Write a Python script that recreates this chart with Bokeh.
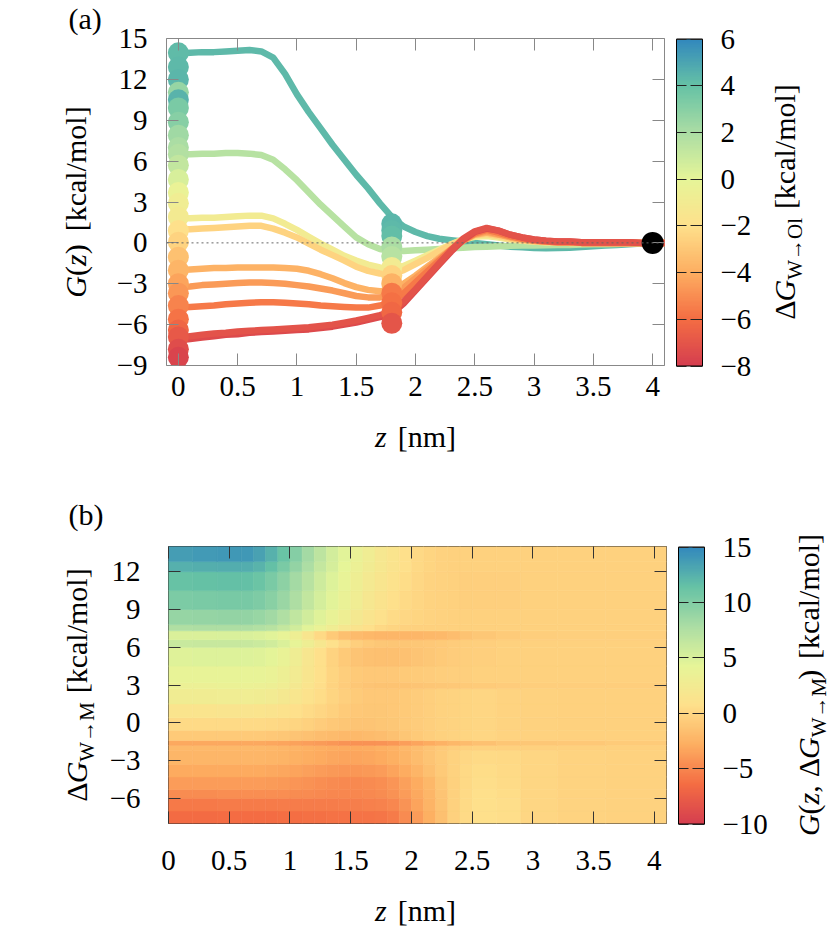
import math
import numpy as np
from bokeh.plotting import figure
from bokeh.models import (ColumnDataSource, LinearColorMapper, ColorBar, FixedTicker,
                          LinearAxis, Span, Range1d, CustomJSTickFormatter)
from bokeh.layouts import column, row
from bokeh.core.properties import value
from bokeh.embed import file_html
from bokeh.resources import INLINE

# ---------------------------------------------------------------- data (a)
Z_GRID = [0.0, 0.1, 0.2, 0.3, 0.4, 0.5, 0.6, 0.7, 0.8, 0.9,
          1.0, 1.1, 1.2, 1.3, 1.4, 1.5, 1.6, 1.7, 1.8, 1.9,
          2.0, 2.1, 2.2, 2.3, 2.4, 2.5, 2.6, 2.7, 2.8, 2.9,
          3.0, 3.1, 3.2, 3.3, 3.4, 3.5, 3.6, 3.7, 3.8, 3.9,
          4.0, 4.1]

G_TEAL = [13.9, 13.95, 14.0, 14.0, 14.05, 14.1, 14.15, 14.05, 13.6, 12.4,
          10.9, 9.6, 8.4, 7.2, 6.1, 5.0, 4.0, 2.9, 1.9, 1.2,
          0.8, 0.5, 0.3, 0.2, 0.1, 0.0, -0.1, -0.2, -0.28, -0.33,
          -0.38, -0.4, -0.38, -0.35, -0.3, -0.25, -0.2, -0.15, -0.1, -0.05,
          0.0, 0.0]
G_GREEN = [6.5, 6.5, 6.55, 6.55, 6.6, 6.6, 6.55, 6.45, 6.1, 5.4,
           4.6, 3.7, 2.8, 2.0, 1.2, 0.4, -0.1, -0.45, -0.6, -0.6,
           -0.55, -0.5, -0.45, -0.4, -0.35, -0.3, -0.28, -0.25, -0.22, -0.2,
           -0.2, -0.18, -0.15, -0.15, -0.12, -0.1, -0.1, -0.08, -0.05, -0.03,
           0.0, 0.0]
G_YELLOW = [1.8, 1.8, 1.85, 1.85, 1.9, 1.95, 2.0, 2.0, 1.8, 1.4,
            0.95, 0.45, -0.05, -0.5, -0.95, -1.3, -1.6, -1.8, -1.9, -1.7,
            -1.3, -0.9, -0.5, -0.1, 0.25, 0.45, 0.5, 0.4, 0.25, 0.15,
            0.1, 0.05, 0.05, 0.0, 0.0, 0.0, 0.0, 0.0, 0.0, 0.0,
            0.0, 0.0]
G_LORANGE = [1.0, 1.0, 1.05, 1.1, 1.15, 1.2, 1.25, 1.25, 1.05, 0.75,
             0.4, -0.05, -0.5, -0.9, -1.3, -1.75, -2.05, -2.25, -2.3, -2.0,
             -1.55, -1.1, -0.6, -0.15, 0.25, 0.55, 0.65, 0.5, 0.3, 0.2,
             0.1, 0.05, 0.05, 0.0, 0.0, 0.0, 0.0, 0.0, 0.0, 0.0,
             0.0, 0.0]
G_ORANGE1 = [-2.0, -1.95, -1.9, -1.85, -1.85, -1.8, -1.8, -1.8, -1.8, -1.85,
             -1.9, -2.05, -2.3, -2.6, -2.95, -3.25, -3.45, -3.55, -3.5, -3.0,
             -2.4, -1.75, -1.1, -0.45, 0.15, 0.6, 0.75, 0.6, 0.4, 0.25,
             0.15, 0.1, 0.05, 0.05, 0.0, 0.0, 0.0, 0.0, 0.0, 0.0,
             0.0, 0.0]
G_ORANGE2 = [-3.25, -3.2, -3.1, -3.05, -3.0, -2.95, -2.9, -2.9, -2.95, -3.0,
             -3.1, -3.2, -3.35, -3.5, -3.7, -3.9, -4.0, -4.0, -3.85, -3.3,
             -2.6, -1.9, -1.2, -0.5, 0.15, 0.65, 0.85, 0.65, 0.45, 0.3,
             0.15, 0.1, 0.05, 0.05, 0.0, 0.0, 0.0, 0.0, 0.0, 0.0,
             0.0, 0.0]
G_ORANGE3 = [-4.75, -4.7, -4.65, -4.6, -4.5, -4.45, -4.4, -4.35, -4.35, -4.4,
             -4.45, -4.5, -4.6, -4.65, -4.7, -4.75, -4.75, -4.6, -4.35, -3.7,
             -2.9, -2.1, -1.3, -0.5, 0.2, 0.7, 0.95, 0.75, 0.5, 0.3,
             0.2, 0.1, 0.05, 0.05, 0.0, 0.0, 0.0, 0.0, 0.0, 0.0,
             0.0, 0.0]
G_RED2 = [-7.15, -7.05, -6.95, -6.85, -6.75, -6.7, -6.6, -6.55, -6.5, -6.45,
          -6.4, -6.35, -6.25, -6.15, -6.0, -5.85, -5.65, -5.45, -5.2, -4.45,
          -3.5, -2.55, -1.6, -0.65, 0.2, 0.8, 1.05, 0.9, 0.6, 0.4,
          0.25, 0.15, 0.1, 0.1, 0.05, 0.05, 0.05, 0.05, 0.05, 0.0,
          0.0, 0.0]
G_RED = [-6.95, -6.85, -6.75, -6.65, -6.6, -6.5, -6.45, -6.4, -6.35, -6.3,
         -6.25, -6.2, -6.1, -6.0, -5.85, -5.7, -5.5, -5.3, -5.05, -4.3,
         -3.4, -2.45, -1.5, -0.55, 0.3, 0.85, 1.1, 0.9, 0.6, 0.4,
         0.25, 0.15, 0.1, 0.1, 0.05, 0.05, 0.05, 0.05, 0.05, 0.0,
         0.0, 0.0]
CURVES = [G_TEAL, G_GREEN, G_YELLOW, G_LORANGE, G_ORANGE1, G_ORANGE2, G_ORANGE3, G_RED2, G_RED]
CURVE_DG = [4.3, 1.6, -1.0, -2.5, -3.8, -4.6, -5.6, -7.5, -7.1]

# end points at z = 0 and z = 1.8
C0_Z = 0.0
C0_G = [13.95, 12.9, 12.0, 11.05, 10.5, 9.9, 8.85, 7.9, 7.0, 6.5, 5.7, 4.65, 3.7, 2.9,
        1.9, 0.9, 0.05, -1.05, -2.0, -3.0, -3.7, -4.6, -5.6, -6.4, -6.9, -7.8, -8.4]
C0_DG = [4.2, 4.3, 4.4, 2.6, 4.5, 3.4, 3.0, 2.3, 2.0, 1.7, 1.2, 0.5, -0.3, -0.8,
         -1.1, -2.0, -2.5, -3.2, -3.7, -4.3, -4.7, -5.3, -5.8, -6.3, -6.8, -7.3, -7.7]
C18_Z = 1.8
C18_G = [1.4, 0.9, 0.5, -0.3, -1.0, -1.8, -2.4, -3.0, -3.7, -4.4, -5.1, -5.9]
C18_DG = [4.4, 4.3, 4.1, 2.0, 1.6, -1.0, -2.5, -3.8, -5.6, -5.9, -6.2, -7.0]
REF_Z = [4.0]
REF_G = [0.0]

A_XTICKS = [0, 0.5, 1, 1.5, 2, 2.5, 3, 3.5, 4]
A_YTICKS = [-9, -6, -3, 0, 3, 6, 9, 12, 15]
A_CTICKS = [-8, -6, -4, -2, 0, 2, 4, 6]

# ---------------------------------------------------------------- data (b)
Z_EDGES = [0.0, 0.2, 0.4, 0.6, 0.7, 0.8, 0.9, 1.0, 1.1, 1.2, 1.3, 1.4, 1.5, 1.6,
           1.7, 1.8, 1.9, 2.0, 2.1, 2.2, 2.3, 2.4, 2.5, 2.7, 2.9, 3.2, 3.6, 4.1]
DG_EDGES = [-8.0, -7.0, -6.0, -5.3, -4.3, -3.3, -2.2, -1.8, -1.4, -0.6, 0.4, 1.5,
            2.7, 3.2, 4.5, 6.0, 6.6, 7.3, 7.8, 9.0, 10.5, 12.0, 12.8, 14.0]
ROW_01 = [-6.5, -6.5, -6.4, -6.4, -6.4, -6.4, -6.3, -6.3, -6.2, -6.2, -6.1, -6.1, -6.0, -6.0,
          -5.9, -5.7, -4.8, -3.8, -2.7, -1.6, -0.4, 0.3, 0.8, 0.6, 0.0, -0.2, -0.3]
ROW_02 = [-5.8, -5.8, -5.7, -5.7, -5.7, -5.7, -5.6, -5.6, -5.6, -5.6, -5.6, -5.5, -5.5, -5.4,
          -5.3, -5.0, -4.3, -3.4, -2.4, -1.4, -0.4, 0.3, 0.8, 0.6, 0.0, -0.2, -0.3]
ROW_03 = [-4.7, -4.7, -4.6, -4.6, -4.6, -4.6, -4.6, -4.7, -4.8, -4.9, -5.0, -5.0, -5.0, -4.9,
          -4.7, -4.4, -3.8, -3.1, -2.2, -1.3, -0.4, 0.3, 0.7, 0.5, 0.0, -0.2, -0.3]
ROW_04 = [-3.8, -3.8, -3.8, -3.8, -3.8, -3.9, -4.0, -4.2, -4.4, -4.6, -4.8, -4.9, -4.9, -4.8,
          -4.6, -4.2, -3.6, -2.9, -2.1, -1.2, -0.4, 0.2, 0.6, 0.4, 0.0, -0.2, -0.3]
ROW_05 = [-3.0, -3.0, -3.0, -3.0, -3.0, -3.1, -3.2, -3.4, -3.6, -3.8, -4.0, -4.1, -4.1, -4.0,
          -3.8, -3.4, -2.9, -2.3, -1.6, -0.9, -0.3, 0.2, 0.5, 0.3, 0.0, -0.2, -0.3]
ROW_06 = [-2.2, -2.2, -2.2, -2.2, -2.2, -2.3, -2.4, -2.6, -2.8, -3.0, -3.2, -3.3, -3.3, -3.2,
          -3.0, -2.7, -2.3, -1.8, -1.3, -0.8, -0.3, 0.1, 0.3, 0.2, 0.0, -0.2, -0.3]
ROW_07 = [-2.0, -2.0, -2.0, -2.0, -2.0, -2.1, -2.2, -2.4, -2.6, -2.8, -2.9, -3.0, -3.0, -2.9,
          -2.7, -2.5, -2.1, -1.7, -1.3, -0.9, -0.6, -0.4, -0.3, -0.4, -0.4, -0.4, -0.4]
ROW_08 = [-3.1, -3.1, -3.1, -3.1, -3.1, -3.2, -3.3, -3.5, -3.7, -3.9, -4.1, -4.3, -4.4, -4.4,
          -4.3, -4.1, -3.7, -3.3, -2.9, -2.5, -2.1, -1.8, -1.5, -1.2, -1.1, -1.0, -0.8]
ROW_09 = [-0.9, -0.9, -0.9, -0.9, -0.9, -1.0, -1.1, -1.3, -1.5, -1.7, -1.9, -2.0, -2.0, -1.9,
          -1.7, -1.5, -1.2, -0.9, -0.6, -0.4, -0.2, -0.1, 0.0, -0.2, -0.3, -0.4, -0.4]
ROW_10 = [0.3, 0.3, 0.3, 0.3, 0.3, 0.2, 0.1, -0.1, -0.4, -0.7, -1.0, -1.2, -1.3, -1.3,
          -1.2, -1.1, -0.9, -0.7, -0.5, -0.3, -0.2, -0.1, 0.0, -0.2, -0.3, -0.4, -0.4]
ROW_11 = [1.4, 1.4, 1.5, 1.5, 1.4, 1.3, 1.1, 0.8, 0.4, 0.0, -0.4, -0.8, -1.0, -1.1,
          -1.1, -1.0, -0.9, -0.7, -0.5, -0.3, -0.2, -0.1, 0.0, -0.2, -0.3, -0.4, -0.4]
ROW_12 = [2.7, 2.7, 2.8, 2.8, 2.7, 2.5, 2.2, 1.7, 1.1, 0.5, -0.1, -0.5, -0.8, -1.0,
          -1.0, -1.0, -0.9, -0.7, -0.5, -0.3, -0.2, -0.1, 0.0, -0.2, -0.3, -0.4, -0.4]
ROW_13 = [3.4, 3.4, 3.5, 3.5, 3.4, 3.2, 2.8, 2.2, 1.4, 0.6, -0.2, -0.7, -1.1, -1.3,
          -1.4, -1.4, -1.4, -1.3, -1.2, -1.1, -1.0, -0.9, -0.8, -0.7, -0.6, -0.6, -0.6]
ROW_14 = [3.9, 4.0, 4.0, 4.0, 3.9, 3.7, 3.2, 2.5, 1.6, 0.7, -0.1, -0.6, -0.9, -1.0,
          -1.0, -1.0, -0.9, -0.8, -0.7, -0.6, -0.5, -0.5, -0.4, -0.4, -0.4, -0.4, -0.4]
ROW_15 = [4.7, 4.8, 4.8, 4.8, 4.7, 4.4, 3.8, 2.9, 1.8, 0.7, -0.2, -0.9, -1.3, -1.5,
          -1.6, -1.6, -1.5, -1.3, -1.1, -0.9, -0.7, -0.6, -0.5, -0.4, -0.4, -0.4, -0.4]
ROW_16 = [6.1, 6.2, 6.2, 6.2, 6.0, 5.6, 5.0, 4.1, 3.0, 1.9, 0.9, 0.1, -0.5, -0.9,
          -1.1, -1.2, -1.2, -1.1, -1.0, -0.9, -0.7, -0.6, -0.5, -0.4, -0.4, -0.4, -0.4]
ROW_17 = [5.0, 5.0, 5.1, 5.1, 4.9, 4.6, 4.0, 3.0, 1.6, 0.2, -0.9, -1.6, -1.9, -2.1,
          -2.2, -2.2, -2.2, -2.2, -2.1, -2.0, -1.7, -1.4, -1.1, -0.8, -0.6, -0.5, -0.5]
ROW_18 = [7.5, 7.6, 7.6, 7.6, 7.4, 7.0, 6.4, 5.6, 4.6, 3.7, 2.8, 2.0, 1.3, 0.7,
          0.2, -0.1, -0.3, -0.4, -0.4, -0.4, -0.4, -0.4, -0.4, -0.4, -0.4, -0.4, -0.4]
ROW_19 = [8.9, 9.0, 9.1, 9.1, 8.8, 8.3, 7.5, 6.6, 5.6, 4.7, 3.8, 3.0, 2.2, 1.5,
          0.9, 0.4, 0.1, -0.1, -0.2, -0.3, -0.4, -0.4, -0.4, -0.4, -0.4, -0.4, -0.4]
ROW_20 = [10.3, 10.4, 10.5, 10.5, 10.2, 9.6, 8.7, 7.6, 6.5, 5.4, 4.5, 3.6, 2.8, 2.0,
          1.3, 0.8, 0.3, 0.0, -0.2, -0.3, -0.4, -0.5, -0.5, -0.5, -0.4, -0.4, -0.4]
ROW_21 = [11.3, 11.4, 11.5, 11.5, 11.1, 10.4, 9.4, 8.2, 7.0, 5.8, 4.8, 3.9, 3.0, 2.3,
          1.6, 1.0, 0.5, 0.1, -0.2, -0.3, -0.4, -0.5, -0.5, -0.5, -0.4, -0.4, -0.4]
ROW_22 = [12.5, 12.6, 12.7, 12.7, 12.3, 11.5, 10.4, 9.1, 7.7, 6.4, 5.3, 4.3, 3.4, 2.6,
          1.9, 1.3, 0.7, 0.2, -0.1, -0.3, -0.4, -0.4, -0.4, -0.4, -0.4, -0.4, -0.4]
ROW_23 = [13.7, 13.9, 14.0, 14.0, 13.4, 12.4, 11.2, 9.8, 8.2, 6.7, 5.5, 4.5, 3.6, 2.8,
          2.0, 1.4, 0.8, 0.2, -0.1, -0.3, -0.4, -0.4, -0.4, -0.4, -0.4, -0.4, -0.4]
HEAT_ROWS = [ROW_01, ROW_02, ROW_03, ROW_04, ROW_05, ROW_06, ROW_07, ROW_08, ROW_09, ROW_10,
             ROW_11, ROW_12, ROW_13, ROW_14, ROW_15, ROW_16, ROW_17, ROW_18, ROW_19, ROW_20,
             ROW_21, ROW_22, ROW_23]

B_XTICKS = [0, 0.5, 1, 1.5, 2, 2.5, 3, 3.5, 4]
B_YTICKS = [-6, -3, 0, 3, 6, 9, 12]
B_CTICKS = [-10, -5, 0, 5, 10, 15]

# ---------------------------------------------------------------- style
FONT = "Liberation Serif"
TICK_FS = 29
LAB_FS = 30
SUB_FS = 21
BASE_K = 0.40   # anchor sits this many em above the baseline in the rendered text
SPECTRAL8 = ["#d53e4f", "#f46d43", "#fdae61", "#fee08b", "#e6f598", "#abdda4", "#66c2a5", "#3288bd"]


def make_palette(base, n=256):
    rgb = np.array([[int(c[i:i + 2], 16) for i in (1, 3, 5)] for c in base], float)
    out = []
    for k in range(n):
        t = k / (n - 1) * (len(base) - 1)
        i = min(int(t), len(base) - 2)
        f = t - i
        c = rgb[i] * (1 - f) + rgb[i + 1] * f
        out.append("#%02x%02x%02x" % tuple(int(round(v)) for v in c))
    return out


PAL = make_palette(SPECTRAL8)
MAP_A = LinearColorMapper(palette=PAL, low=-8, high=6)
MAP_B = LinearColorMapper(palette=PAL, low=-10, high=15)

NUM_FMT = "return (tick < 0 ? '\u2212' + (-tick) : '' + tick);"

ADV = {"(": .333, ")": .333, "[": .333, "]": .333, "k": .5, "c": .444, "a": .444, "l": .278,
       "/": .278, "m": .778, "o": .5, "n": .5, " ": .25, "Δ": .612, "G": .722, "W": .944,
       "→": .9, "O": .722, "M": .889, ",": .25, "z": .389}


def adv(s, fs):
    return sum(ADV.get(ch, .5) for ch in s) * fs


def no_align(f):
    try:
        f.frame_align = False
    except Exception:
        pass
    return f


def text_fig(w, h):
    f = figure(frame_width=w, frame_height=h, x_range=Range1d(0, w), y_range=Range1d(0, h),
               x_axis_type=None, y_axis_type=None, output_backend="svg", title=None,
               toolbar_location=None, min_border=0, outline_line_color=None)
    return no_align(f)


def put_text(f, x, y, text, fs, italic=False, rotated=False):
    """(x, y): start of the text on its baseline, in the figure's pixel data units"""
    if rotated:
        ax, ay, ang = x - BASE_K * fs, y, math.pi / 2
    else:
        ax, ay, ang = x, y + BASE_K * fs, 0.0
    f.text(x=[ax], y=[ay], text=[text], angle=ang, text_font=value(FONT),
           text_font_size=value(f"{fs}px"),
           text_font_style=value("italic" if italic else "normal"),
           text_color="black", text_align="left", text_baseline="alphabetic")


def rich_text(f, x, y, pieces, rotated):
    """pieces: (text, size, italic, baseline_shift); text None -> gap of `size` px"""
    widths = [(pc[1] if pc[0] is None else adv(pc[0], pc[1])) for pc in pieces]
    pos = -sum(widths) / 2
    for (text, fs, it, shift), w in zip(pieces, widths):
        if text is not None:
            if rotated:
                put_text(f, x + shift, y + pos, text, fs, it, True)
            else:
                put_text(f, x + pos, y - shift, text, fs, it, False)
        pos += w


def add_axes(p, xt, yt, color, xstand, ystand):
    for side, ticks in (("below", xt), ("left", yt), ("above", xt), ("right", yt)):
        mirror = side in ("above", "right")
        ax = LinearAxis(ticker=FixedTicker(ticks=ticks, minor_ticks=[]),
                        formatter=CustomJSTickFormatter(code="return '';" if mirror else NUM_FMT))
        ax.axis_line_color = None
        ax.major_tick_line_color = color
        ax.major_tick_line_width = 1
        ax.major_tick_in = 12
        ax.major_tick_out = 0
        ax.minor_tick_line_color = None
        if mirror:
            ax.major_label_standoff = 0
            ax.major_label_text_font_size = "0px"
        else:
            ax.major_label_text_font = FONT
            ax.major_label_text_font_size = f"{TICK_FS}px"
            ax.major_label_text_color = "black"
            ax.major_label_standoff = xstand if side == "below" else ystand
        p.add_layout(ax, side)


def add_colorbar(p, mapper, ticks, height):
    cb = ColorBar(color_mapper=mapper, ticker=FixedTicker(ticks=ticks, minor_ticks=[]),
                  formatter=CustomJSTickFormatter(code=NUM_FMT),
                  width=26, height=height, padding=12, margin=0, location="center_left",
                  bar_line_color="black", bar_line_width=1,
                  major_tick_line_color="#222222", major_tick_line_dash="12 4",
                  major_tick_in=26, major_tick_out=0, minor_tick_line_color=None,
                  major_label_text_font=FONT, major_label_text_font_size=f"{TICK_FS}px",
                  major_label_text_color="black", label_standoff=18,
                  background_fill_color=None, border_line_color=None)
    p.add_layout(cb, "right")
    return cb


# ---------------------------------------------------------------- panel (a)
pa = figure(frame_width=498, frame_height=327, x_range=Range1d(-0.1, 4.1), y_range=Range1d(-9, 15),
            x_axis_type=None, y_axis_type=None, output_backend="svg", toolbar_location=None,
            title=None, min_border_left=60, min_border_right=102, min_border_top=38,
            min_border_bottom=50)
no_align(pa)
pa.outline_line_color = "#888888"
pa.outline_line_width = 1
add_axes(pa, A_XTICKS, A_YTICKS, "#888888", 11, 19)

pa.add_layout(Span(location=0, dimension="width", line_color="#666666", line_width=1,
                   line_dash="2 3"))

curve_src = ColumnDataSource(dict(xs=[Z_GRID] * len(CURVES), ys=CURVES, dg=CURVE_DG))
pa.multi_line(xs="xs", ys="ys", source=curve_src, line_width=6.5, line_cap="round",
              line_join="round", line_color={"field": "dg", "transform": MAP_A})

end_src = ColumnDataSource(dict(z=[C0_Z] * len(C0_G) + [C18_Z] * len(C18_G),
                                g=C0_G + C18_G, dg=C0_DG + C18_DG))
pa.scatter(x="z", y="g", source=end_src, size=21, line_color=None,
           fill_color={"field": "dg", "transform": MAP_A})
pa.scatter(x=REF_Z, y=REF_G, size=22, fill_color="black", line_color=None)

add_colorbar(pa, MAP_A, A_CTICKS, 327)

# ---------------------------------------------------------------- panel (b)
pb = figure(frame_width=498, frame_height=277, x_range=Range1d(0, 4.1), y_range=Range1d(-8, 14),
            x_axis_type=None, y_axis_type=None, output_backend="svg", toolbar_location=None,
            title=None, min_border_left=60, min_border_right=114, min_border_top=68,
            min_border_bottom=64)
no_align(pb)
pb.outline_line_color = "#333333"
pb.outline_line_width = 1

left, right, bottom, top, val = [], [], [], [], []
for r, row_vals in enumerate(HEAT_ROWS):
    for c, v in enumerate(row_vals):
        left.append(Z_EDGES[c])
        right.append(Z_EDGES[c + 1])
        bottom.append(DG_EDGES[r])
        top.append(DG_EDGES[r + 1])
        val.append(v)
heat_src = ColumnDataSource(dict(left=left, right=right, bottom=bottom, top=top, val=val))
pb.quad(left="left", right="right", bottom="bottom", top="top", source=heat_src,
        fill_color={"field": "val", "transform": MAP_B},
        line_color={"field": "val", "transform": MAP_B}, line_width=0.6)

add_axes(pb, B_XTICKS, B_YTICKS, "#333333", 27, 28)
add_colorbar(pb, MAP_B, B_CTICKS, 277)

# ---------------------------------------------------------------- text strips
HA, HB = 415, 409          # full heights of the two plot rows
left_a = text_fig(106, HA)
put_text(left_a, 68, HA - 30, "(a)", LAB_FS)
rich_text(left_a, 87, HA - 201.5,
          [("G", LAB_FS, True, 0), ("(", LAB_FS, False, 0), ("z", LAB_FS, True, 0),
           (")", LAB_FS, False, 0), (None, 13, False, 0), ("[kcal/mol]", LAB_FS, False, 0)], True)
right_a = text_fig(64, HA)
rich_text(right_a, 30, HA - 201.5,
          [("Δ", LAB_FS, False, 0), ("G", LAB_FS, True, 0), ("W→Ol", SUB_FS, False, 7),
           (None, 11, False, 0), ("[kcal/mol]", LAB_FS, False, 0)], True)
bottom_a = text_fig(830, 63)
rich_text(bottom_a, 415, 30, [("z", LAB_FS, True, 0), (None, 11, False, 0),
                              ("[nm]", LAB_FS, False, 0)], False)

left_b = text_fig(106, HB)
put_text(left_b, 68, HB - 48, "(b)", LAB_FS)
rich_text(left_b, 88, HB - 206.5,
          [("Δ", LAB_FS, False, 0), ("G", LAB_FS, True, 0), ("W→M", SUB_FS, False, 7),
           (None, 11, False, 0), ("[kcal/mol]", LAB_FS, False, 0)], True)
right_b = text_fig(52, HB)
rich_text(right_b, 38, HB - 206.5,
          [("G", LAB_FS, True, 0), ("(", LAB_FS, False, 0), ("z", LAB_FS, True, 0),
           (",", LAB_FS, False, 0), (None, 8, False, 0), ("Δ", LAB_FS, False, 0),
           ("G", LAB_FS, True, 0), ("W→M", SUB_FS, False, 7), (")", LAB_FS, False, 0),
           (None, 11, False, 0), ("[kcal/mol]", LAB_FS, False, 0)], True)
bottom_b = text_fig(830, 46)
rich_text(bottom_b, 415, 11, [("z", LAB_FS, True, 0), (None, 11, False, 0),
                              ("[nm]", LAB_FS, False, 0)], False)

layout = column(row(left_a, pa, right_a, spacing=0), bottom_a,
                row(left_b, pb, right_b, spacing=0), bottom_b, spacing=0)
open("out.html", "w").write(file_html(layout, INLINE, title="G(z) profiles"))
